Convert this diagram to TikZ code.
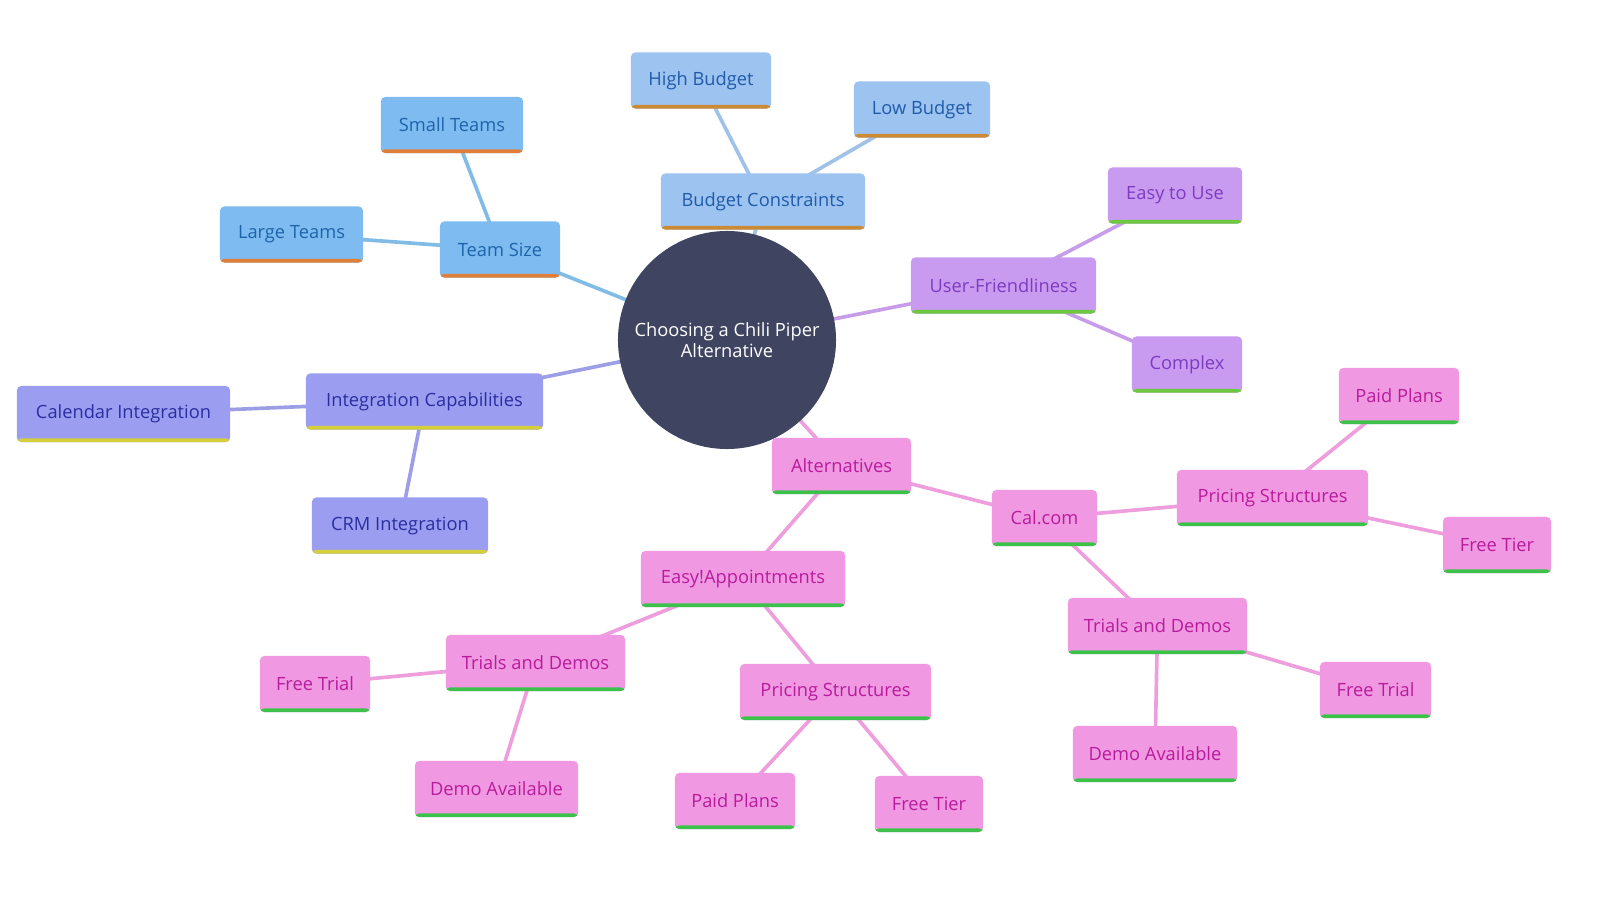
\documentclass[tikz,border=0pt]{standalone}
\usepackage{fontspec}
\setmainfont{Open Sans}
\usepackage{tikz}
\usetikzlibrary{backgrounds}
\definecolor{center-color}{HTML}{3F4460}
\definecolor{team-color}{HTML}{7DBBF0}
\definecolor{team-text}{HTML}{1F64AA}
\definecolor{team-bar}{HTML}{E07F3A}
\definecolor{team-line}{HTML}{80BCE6}
\definecolor{budget-color}{HTML}{9DC3F0}
\definecolor{budget-text}{HTML}{1F5BAA}
\definecolor{budget-bar}{HTML}{CC8A35}
\definecolor{budget-line}{HTML}{9FC2E6}
\definecolor{user-color}{HTML}{C99BF0}
\definecolor{user-text}{HTML}{7D3BC0}
\definecolor{user-bar}{HTML}{6CC93F}
\definecolor{user-line}{HTML}{C79DEA}
\definecolor{integ-color}{HTML}{9B9EF0}
\definecolor{integ-text}{HTML}{2A2EA0}
\definecolor{integ-bar}{HTML}{D6CF3C}
\definecolor{integ-line}{HTML}{9D9FE6}
\definecolor{alt-color}{HTML}{F098E2}
\definecolor{alt-text}{HTML}{B81C9C}
\definecolor{alt-bar}{HTML}{3CC24A}
\definecolor{alt-line}{HTML}{EE9EDC}

\tikzset{
    mmbox/.style={rectangle, rounded corners=3pt, minimum height=1.4cm,
        inner xsep=2pt, font=\fontsize{13pt}{15pt}\selectfont},
    bar/.style={path picture={\fill[#1] (path picture bounding box.south west)
        rectangle ([yshift=2.6pt]path picture bounding box.south east);}},
    teambox/.style={mmbox, fill=team-color, text=team-text, bar=team-bar},
    budgetbox/.style={mmbox, fill=budget-color, text=budget-text, bar=budget-bar},
    userbox/.style={mmbox, fill=user-color, text=user-text, bar=user-bar},
    integbox/.style={mmbox, fill=integ-color, text=integ-text, bar=integ-bar},
    altbox/.style={mmbox, fill=alt-color, text=alt-text, bar=alt-bar},
    link/.style={line width=2.6pt, draw=#1},
}

\begin{document}
\begin{tikzpicture}[x=0.025cm, y=-0.025cm]
    \useasboundingbox (0,0) rectangle (1600,900);

    % centre
    \node[circle, fill=center-color, text=white, minimum size=5.45cm, align=center,
          font=\fontsize{13pt}{15pt}\selectfont] (root) at (727,340)
          {Choosing a Chili Piper\\Alternative};

    % team size
    \node[teambox, minimum width=3.0cm] (teamsize) at (500,249.5) {Team Size};
    \node[teambox, minimum width=3.55cm] (smallteams) at (452,125) {Small Teams};
    \node[teambox, minimum width=3.575cm] (largeteams) at (291.5,234.5) {Large Teams};

    % budget
    \node[budgetbox, minimum width=5.1cm] (budget) at (763,201.5) {Budget Constraints};
    \node[budgetbox, minimum width=3.5cm] (highbudget) at (701,80.5) {High Budget};
    \node[budgetbox, minimum width=3.4cm] (lowbudget) at (922,109.5) {Low Budget};

    % user-friendliness
    \node[userbox, minimum width=4.625cm] (userfriendly) at (1003.5,285.5) {User-Friendliness};
    \node[userbox, minimum width=3.35cm] (easyuse) at (1175,195.5) {Easy to Use};
    \node[userbox, minimum width=2.75cm] (complex) at (1187,364.5) {Complex};

    % integration
    \node[integbox, minimum width=5.925cm] (integration) at (424.5,401.5) {Integration Capabilities};
    \node[integbox, minimum width=5.325cm] (calendar) at (123.5,414) {Calendar Integration};
    \node[integbox, minimum width=4.4cm] (crm) at (400,525.5) {CRM Integration};

    % alternatives
    \node[altbox, minimum width=3.475cm] (alternatives) at (841.5,466) {Alternatives};
    \node[altbox, minimum width=2.625cm] (calcom) at (1044.5,518) {Cal.com};
    \node[altbox, minimum width=4.775cm] (calpricing) at (1272.5,498) {Pricing Structures};
    \node[altbox, minimum width=3.0cm] (calpaid) at (1399,396) {Paid Plans};
    \node[altbox, minimum width=2.7cm] (calfreetier) at (1497,545) {Free Tier};
    \node[altbox, minimum width=4.475cm] (caltrials) at (1157.5,626) {Trials and Demos};
    \node[altbox, minimum width=2.775cm] (calfreetrial) at (1375.5,690) {Free Trial};
    \node[altbox, minimum width=4.1cm] (caldemo) at (1155,754) {Demo Available};
    \node[altbox, minimum width=5.1cm] (easyappt) at (743,579) {Easy!Appointments};
    \node[altbox, minimum width=4.475cm] (easytrials) at (535.5,663) {Trials and Demos};
    \node[altbox, minimum width=2.75cm] (easyfreetrial) at (315,684) {Free Trial};
    \node[altbox, minimum width=4.075cm] (easydemo) at (496.5,789) {Demo Available};
    \node[altbox, minimum width=4.775cm] (easypricing) at (835.5,692) {Pricing Structures};
    \node[altbox, minimum width=3.0cm] (easypaid) at (735,801) {Paid Plans};
    \node[altbox, minimum width=2.7cm] (easyfreetier) at (929,804) {Free Tier};

    \begin{pgfonlayer}{background}
        \draw[link=team-line] (root.center) -- (teamsize.center);
        \draw[link=team-line] (teamsize.center) -- (smallteams.center);
        \draw[link=team-line] (teamsize.center) -- (largeteams.center);
        \draw[link=budget-line] (root.center) -- (budget.center);
        \draw[link=budget-line] (budget.center) -- (highbudget.center);
        \draw[link=budget-line] (budget.center) -- (lowbudget.center);
        \draw[link=user-line] (root.center) -- (userfriendly.center);
        \draw[link=user-line] (userfriendly.center) -- (easyuse.center);
        \draw[link=user-line] (userfriendly.center) -- (complex.center);
        \draw[link=integ-line] (root.center) -- (integration.center);
        \draw[link=integ-line] (integration.center) -- (calendar.center);
        \draw[link=integ-line] (integration.center) -- (crm.center);
        \draw[link=alt-line] (root.center) -- (alternatives.center);
        \draw[link=alt-line] (alternatives.center) -- (calcom.center);
        \draw[link=alt-line] (calcom.center) -- (calpricing.center);
        \draw[link=alt-line] (calpricing.center) -- (calpaid.center);
        \draw[link=alt-line] (calpricing.center) -- (calfreetier.center);
        \draw[link=alt-line] (calcom.center) -- (caltrials.center);
        \draw[link=alt-line] (caltrials.center) -- (calfreetrial.center);
        \draw[link=alt-line] (caltrials.center) -- (caldemo.center);
        \draw[link=alt-line] (alternatives.center) -- (easyappt.center);
        \draw[link=alt-line] (easyappt.center) -- (easytrials.center);
        \draw[link=alt-line] (easytrials.center) -- (easyfreetrial.center);
        \draw[link=alt-line] (easytrials.center) -- (easydemo.center);
        \draw[link=alt-line] (easyappt.center) -- (easypricing.center);
        \draw[link=alt-line] (easypricing.center) -- (easypaid.center);
        \draw[link=alt-line] (easypricing.center) -- (easyfreetier.center);
    \end{pgfonlayer}
\end{tikzpicture}
\end{document}
